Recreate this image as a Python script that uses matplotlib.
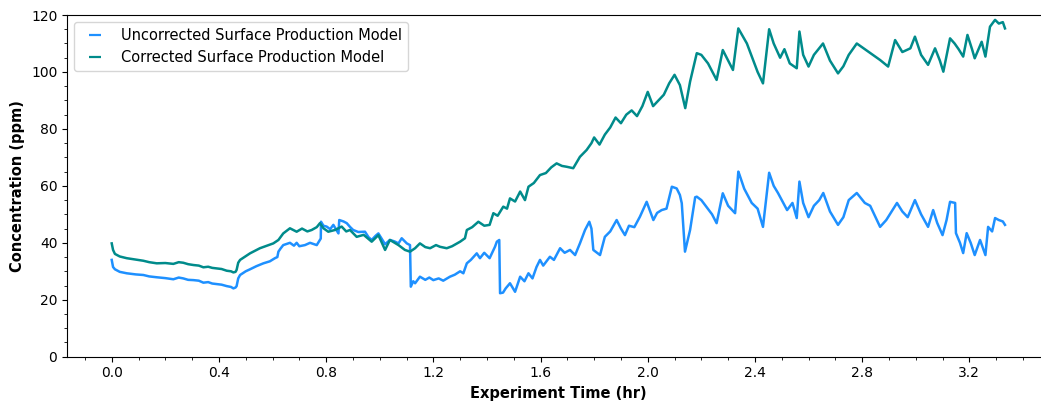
import numpy as np
import matplotlib
matplotlib.use("Agg")
import matplotlib.pyplot as plt
from matplotlib.lines import Line2D
from matplotlib.ticker import MultipleLocator

# time (hr) and concentration (ppm) for the uncorrected model
t_uncorr = [0.000, 0.005, 0.012, 0.03, 0.056, 0.09, 0.118, 0.14, 0.168, 0.20, 0.23, 0.25, 0.267, 0.285,
            0.305, 0.325, 0.342, 0.36, 0.375, 0.392, 0.41, 0.429, 0.445, 0.454, 0.462, 0.466, 0.472, 0.479,
            0.50, 0.516, 0.54, 0.566, 0.59, 0.609, 0.618, 0.622, 0.63, 0.64, 0.665, 0.68, 0.69, 0.70, 0.721,
            0.74, 0.765, 0.777, 0.780, 0.781, 0.79, 0.802, 0.815, 0.827, 0.846, 0.849, 0.865, 0.877, 0.89,
            0.901, 0.92, 0.945, 0.958, 0.97, 0.985, 0.995, 1.01, 1.02, 1.038, 1.055, 1.07, 1.082, 1.101,
            1.113, 1.116, 1.125, 1.132, 1.15, 1.17, 1.185, 1.20, 1.22, 1.237, 1.262, 1.28, 1.30, 1.312,
            1.325, 1.34, 1.362, 1.374, 1.39, 1.41, 1.43, 1.437, 1.446, 1.449, 1.46, 1.47, 1.486, 1.505,
            1.524, 1.54, 1.555, 1.57, 1.585, 1.598, 1.61, 1.635, 1.65, 1.673, 1.69, 1.71, 1.729, 1.747,
            1.766, 1.782, 1.79, 1.797, 1.822, 1.84, 1.86, 1.884, 1.90, 1.915, 1.93, 1.95, 1.971, 1.996,
            2.021, 2.035, 2.052, 2.07, 2.09, 2.108, 2.12, 2.127, 2.139, 2.158, 2.177, 2.183, 2.20, 2.22,
            2.24, 2.257, 2.28, 2.30, 2.326, 2.338, 2.342, 2.36, 2.388, 2.41, 2.43, 2.453, 2.47, 2.486,
            2.50, 2.52, 2.54, 2.556, 2.566, 2.58, 2.60, 2.62, 2.64, 2.655, 2.68, 2.71, 2.73, 2.75, 2.78,
            2.81, 2.83, 2.85, 2.867, 2.89, 2.91, 2.93, 2.95, 2.97, 2.997, 3.02, 3.046, 3.065, 3.08, 3.10,
            3.115, 3.128, 3.147, 3.15, 3.165, 3.177, 3.19, 3.205, 3.22, 3.24, 3.26, 3.27, 3.285, 3.296,
            3.31, 3.325, 3.333]
c_uncorr = [34.0, 31.5, 30.7, 29.8, 29.3, 28.9, 28.7, 28.2, 27.9, 27.6, 27.2, 27.8, 27.5, 27.0,
            26.9, 26.7, 26.0, 26.2, 25.7, 25.5, 25.3, 24.8, 24.5, 24.0, 24.3, 24.8, 27.5, 28.7,
            30.0, 30.7, 31.8, 32.8, 33.5, 34.6, 35.0, 36.9, 38.0, 39.2, 40.0, 39.0, 40.0, 38.8, 39.2,
            40.0, 39.2, 41.0, 41.5, 47.4, 46.0, 45.7, 44.8, 46.3, 43.3, 48.0, 47.5, 46.9, 45.5,
            44.5, 43.8, 43.9, 42.0, 41.0, 42.5, 43.3, 41.0, 39.5, 41.0, 40.5, 39.8, 41.6, 39.8,
            39.2, 24.6, 26.5, 25.8, 28.1, 27.0, 27.8, 26.9, 27.5, 26.7, 28.1, 28.8, 30.0, 29.3,
            32.8, 34.0, 36.3, 34.6, 36.5, 34.6, 38.6, 40.4, 41.0, 22.3, 22.5, 24.0, 25.8, 22.8,
            28.1, 26.5, 29.3, 27.5, 31.5, 34.0, 32.0, 35.1, 34.0, 38.1, 36.5, 37.5, 35.7, 39.8,
            44.5, 47.4, 45.0, 37.5, 35.7, 42.1, 44.0, 48.0, 45.0, 42.7, 46.0, 45.5, 49.2, 54.4,
            48.0, 50.5, 51.5, 52.0, 59.7, 59.1, 56.8, 53.9, 36.9, 44.5, 56.0, 56.2, 55.0, 52.5,
            50.0, 46.9, 57.4, 53.0, 50.4, 65.0, 64.0, 59.0, 54.0, 52.0, 45.6, 64.6, 60.0, 57.5,
            55.0, 51.5, 54.0, 48.7, 61.5, 54.0, 49.0, 53.0, 55.0, 57.5, 51.0, 46.3, 49.0, 55.0, 57.5,
            54.0, 53.0, 49.0, 45.6, 48.0, 51.0, 54.0, 51.0, 49.0, 55.0, 50.0, 45.6, 51.5, 47.0, 42.7,
            48.0, 54.4, 54.0, 43.4, 40.0, 36.4, 43.4, 40.0, 35.7, 41.0, 35.7, 45.6, 44.0, 48.7,
            48.0, 47.5, 46.3]

# time (hr) and concentration (ppm) for the corrected model
t_corr = [0.000, 0.005, 0.012, 0.03, 0.056, 0.09, 0.118, 0.14, 0.168, 0.20, 0.23, 0.25, 0.267, 0.285,
          0.305, 0.325, 0.342, 0.36, 0.375, 0.392, 0.41, 0.429, 0.445, 0.454, 0.462, 0.466, 0.472, 0.479,
          0.50, 0.516, 0.553, 0.58, 0.603, 0.622, 0.64, 0.665, 0.69, 0.71, 0.73, 0.746, 0.765, 0.777,
          0.79, 0.808, 0.833, 0.858, 0.875, 0.889, 0.914, 0.94, 0.97, 0.995, 1.02, 1.038, 1.07, 1.094,
          1.113, 1.132, 1.15, 1.17, 1.188, 1.21, 1.225, 1.25, 1.27, 1.30, 1.318, 1.325, 1.345, 1.368,
          1.39, 1.41, 1.424, 1.44, 1.461, 1.475, 1.486, 1.505, 1.524, 1.542, 1.555, 1.575, 1.598, 1.62,
          1.64, 1.66, 1.68, 1.698, 1.722, 1.747, 1.772, 1.79, 1.80, 1.82, 1.84, 1.86, 1.88, 1.90, 1.92,
          1.94, 1.96, 1.98, 2.00, 2.02, 2.04, 2.06, 2.08, 2.10, 2.12, 2.14, 2.158, 2.183, 2.20, 2.225,
          2.257, 2.28, 2.30, 2.318, 2.338, 2.37, 2.393, 2.41, 2.43, 2.453, 2.47, 2.494, 2.51, 2.53,
          2.556, 2.566, 2.58, 2.60, 2.62, 2.654, 2.68, 2.71, 2.73, 2.75, 2.78, 2.81, 2.84, 2.867,
          2.897, 2.923, 2.95, 2.98, 2.997, 3.02, 3.046, 3.072, 3.09, 3.103, 3.128, 3.145, 3.16, 3.177,
          3.193, 3.21, 3.22, 3.246, 3.26, 3.277, 3.296, 3.31, 3.325, 3.333]
c_corr = [39.8, 37.5, 36.1, 35.2, 34.6, 34.1, 33.7, 33.2, 32.8, 32.9, 32.6, 33.2, 33.0, 32.5,
          32.2, 32.0, 31.4, 31.6, 31.2, 31.0, 30.8, 30.2, 30.0, 29.6, 29.8, 30.5, 33.0, 34.0,
          35.3, 36.3, 38.1, 39.0, 39.8, 41.0, 43.3, 45.1, 43.9, 45.0, 44.0, 44.5, 45.5, 46.9,
          45.1, 43.9, 44.5, 45.7, 44.0, 44.5, 42.1, 42.8, 40.4, 42.7, 37.5, 41.0, 39.2, 37.5,
          36.9, 38.1, 39.8, 38.5, 38.1, 39.2, 38.6, 38.1, 38.8, 40.4, 41.6, 44.5, 45.5, 47.4,
          46.0, 46.3, 50.4, 49.5, 52.7, 52.0, 55.6, 54.5, 58.0, 55.0, 59.7, 61.0, 63.8, 64.5,
          66.5, 67.9, 67.0, 66.7, 66.2, 70.2, 72.6, 75.0, 77.0, 74.5, 78.0, 80.5, 84.0, 82.0, 85.0,
          86.5, 84.5, 88.0, 93.0, 88.0, 90.0, 92.0, 96.0, 99.0, 95.4, 87.3, 96.6, 106.6, 106.0, 103.0,
          97.2, 107.7, 104.0, 100.7, 115.3, 110.0, 104.2, 100.0, 96.0, 115.0, 110.0, 105.0, 108.0, 103.0,
          101.3, 114.2, 106.0, 101.9, 106.0, 110.0, 104.0, 99.5, 102.0, 106.0, 110.0, 108.0, 106.0, 104.2,
          101.9, 111.2, 107.0, 108.3, 112.4, 106.0, 102.5, 108.3, 104.0, 100.1, 111.8, 110.0, 108.0, 105.4,
          113.0, 108.0, 104.8, 110.6, 105.4, 115.9, 118.3, 117.0, 117.5, 115.3]

fig = plt.figure(figsize=(10.41, 4.08), dpi=100)
# axes runs a little past the right edge of the figure
ax = fig.add_axes([0.0644, 0.1257, 0.944, 0.8375])

ax.plot(t_uncorr, c_uncorr, color='dodgerblue', lw=1.8)
ax.plot(t_corr, c_corr, color='darkcyan', lw=1.8)

ax.set_xlim(-0.1667, 3.5)
ax.set_ylim(0, 120)
ax.xaxis.set_major_locator(MultipleLocator(0.4))
ax.xaxis.set_minor_locator(MultipleLocator(0.1))
ax.yaxis.set_major_locator(MultipleLocator(20))
ax.yaxis.set_minor_locator(MultipleLocator(5))
ax.spines['right'].set_visible(False)

ax.set_xlabel('Experiment Time (hr)', fontweight='bold', fontsize=10.5)
ax.set_ylabel('Concentration (ppm)', fontweight='bold', fontsize=10.5)

# short dash markers as legend keys
handles = [Line2D([], [], ls='None', marker='_', ms=8, mew=1.6, color='dodgerblue'),
           Line2D([], [], ls='None', marker='_', ms=8, mew=1.6, color='darkcyan')]
ax.legend(handles, ['Uncorrected Surface Production Model', 'Corrected Surface Production Model'],
          loc='upper left', fontsize=10.5)

fig.savefig('out.png', dpi=100)
